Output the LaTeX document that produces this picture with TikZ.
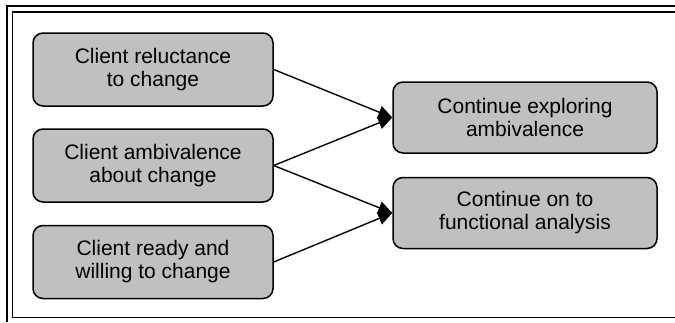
\documentclass[tikz,border=0pt]{standalone}
\usepackage{fontspec}
\setmainfont{Liberation Sans}
\usetikzlibrary{arrows.meta}
\definecolor{boxgray}{RGB}{192,192,192}

\begin{document}
\begin{tikzpicture}[x=1pt, y=-1pt,
    stage/.style={draw, line width=1.5pt, rounded corners=10pt, fill=boxgray,
        align=center, inner sep=0pt, font=\fontsize{21}{23}\selectfont},
    link/.style={line width=1.4pt, -{Triangle[length=14pt, width=13pt]}}]
    \useasboundingbox (0,0) rectangle (675,322);
    % double frame, cut off at the right and bottom
    \draw[line width=2pt] (675,6) -- (7,6) -- (7,322);
    \draw[line width=1.5pt] (675,12) -- (12.5,12) -- (12.5,317.5) -- (675,317.5);
    % client states
    \foreach \y/\n/\t in {69.5/reluct/{Client reluctance\\to change},
                          165.5/ambiv/{Client ambivalence\\about change},
                          262/ready/{Client ready and\\willing to change}} {
        \node (\n) at (153,\y) [stage, minimum width=240pt, minimum height=73pt] {\t};
    }
    % next steps
    \node (explore) at (525,117.5) [stage, minimum width=264pt, minimum height=71pt]
        {Continue exploring\\ambivalence};
    \node (analysis) at (525,213) [stage, minimum width=264pt, minimum height=71pt]
        {Continue on to\\functional analysis};
    \draw[link] (reluct.east) -- (explore.west);
    \draw[link] (ambiv.east) -- (explore.west);
    \draw[link] (ambiv.east) -- (analysis.west);
    \draw[link] (ready.east) -- (analysis.west);
\end{tikzpicture}
\end{document}
